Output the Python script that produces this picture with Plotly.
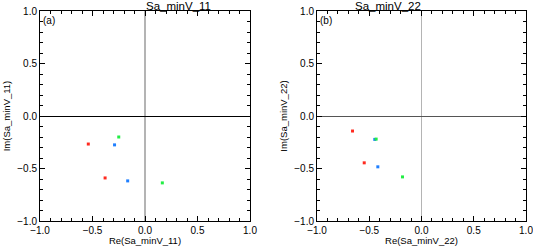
import plotly.graph_objects as go

# data
colors = ["#ff2a1f", "#ff2a1f", "#1f7fff", "#1f7fff", "#22ee44", "#22ee44"]
re11 = [-0.54, -0.38, -0.29, -0.165, -0.25, 0.165]
im11 = [-0.267, -0.59, -0.275, -0.618, -0.20, -0.637]
re22 = [-0.66, -0.548, -0.447, -0.418, -0.434, -0.182]
im22 = [-0.143, -0.446, -0.223, -0.484, -0.220, -0.58]
tickvals = [-1.0, -0.5, 0.0, 0.5, 1.0]
ticktext = ["\u22121.0", "\u22120.5", "0.0", "0.5", "1.0"]
titles = ["Sa_minV_11", "Sa_minV_22"]
panel_labels = ["(a)", "(b)"]

FONT = "Liberation Sans, Arial, Helvetica, sans-serif"

L, R, T, B = 40, 7, 11, 25
PW = 533 - L - R
PH = 246 - T - B

fig = go.Figure()
fig.add_trace(go.Scatter(x=re11, y=im11, mode="markers", xaxis="x", yaxis="y",
                         marker=dict(color=colors, size=3, symbol="square", line=dict(width=0)),
                         showlegend=False, hoverinfo="skip"))
fig.add_trace(go.Scatter(x=re22, y=im22, mode="markers", xaxis="x2", yaxis="y2",
                         marker=dict(color=colors, size=3, symbol="square", line=dict(width=0)),
                         showlegend=False, hoverinfo="skip"))

def axis(domain, title, anchor, zc, zw, standoff):
    return dict(domain=domain, range=[-1, 1], anchor=anchor, automargin=False,
                tickvals=tickvals, ticktext=ticktext, ticklabeloverflow="allow",
                ticks="inside", ticklen=5, tickwidth=1, tickcolor="black",
                minor=dict(dtick=0.1, ticks="inside", ticklen=3, tickwidth=1, tickcolor="black", showgrid=False),
                showline=True, linecolor="black", linewidth=1, mirror="allticks",
                showgrid=False, zeroline=True, zerolinecolor=zc, zerolinewidth=zw,
                tickfont=dict(family=FONT, size=10, color="black"),
                title=dict(text=title, font=dict(family=FONT, size=9.5, color="black"), standoff=standoff))

xd1 = [0, 210 / PW]
xd2 = [(317 - L) / PW, 1]
yd = [0, 1]

fig.update_layout(
    width=533, height=246, margin=dict(l=L, r=R, t=T, b=B, autoexpand=False),
    plot_bgcolor="white", paper_bgcolor="white",
    xaxis=axis(xd1, "Re(Sa_minV_11)", "y", "#b4b4b4", 2, 0),
    yaxis=axis(yd, "Im(Sa_minV_11)", "x", "black", 1, 4),
    xaxis2=axis(xd2, "Re(Sa_minV_22)", "y2", "#b4b4b4", 1, 0),
    yaxis2=axis(yd, "Im(Sa_minV_22)", "x2", "#555555", 1, 4),
)

for xd, t, pl in zip([xd1, xd2], titles, panel_labels):
    fig.add_annotation(xref="paper", yref="paper", x=(xd[0] + xd[1]) / 2, y=1,
                       text=t, showarrow=False, yanchor="middle", yshift=5, borderpad=0,
                       font=dict(family=FONT, size=11.5, color="black"))
    fig.add_annotation(xref="paper", yref="paper", x=xd[0], y=1,
                       text=pl, showarrow=False, xanchor="left", yanchor="top",
                       xshift=1, yshift=-2,
                       font=dict(family=FONT, size=10, color="black"))

post = (
    "document.body.style.margin='0';document.body.style.overflow='hidden';"
    "try{var gd=document.getElementById('{plot_id}');"
    "Plotly.newPlot(gd, gd.data, gd.layout, {displayModeBar:false});}catch(e){}"
)

fig.write_html("out.html", config={"displayModeBar": False}, post_script=post)
